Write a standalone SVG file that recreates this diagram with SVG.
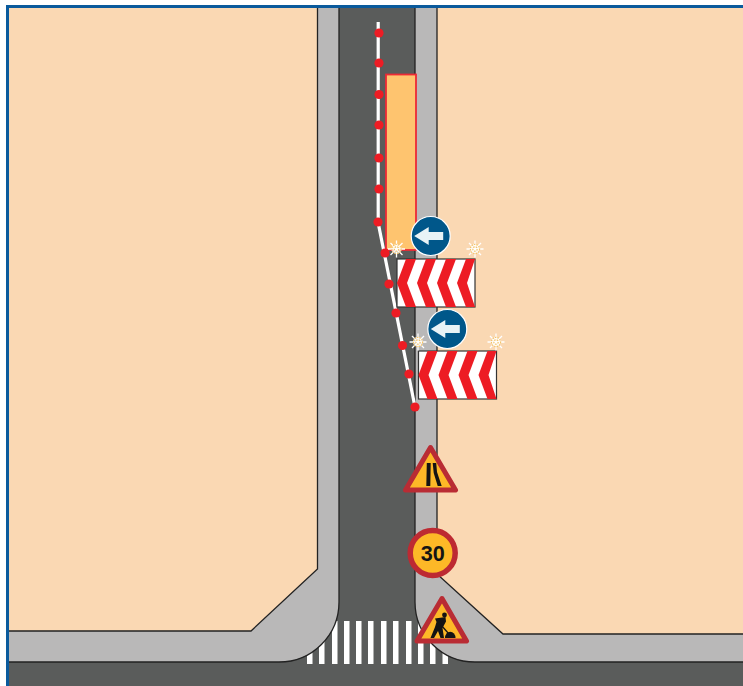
<svg xmlns="http://www.w3.org/2000/svg" width="743" height="686" viewBox="0 0 743 686">
<defs>
<style>
text{font-family:"Liberation Sans",Arial,sans-serif}
.walk{fill:#b9b8b8;stroke:none}
.edge{fill:none;stroke:#222;stroke-width:1.3}
.dot{fill:#ed1c24}
.zebra{fill:#fff}
.tri{fill:#fdb827;stroke:#b92c34;stroke-width:5;stroke-linejoin:round}
.chev{fill:#ed1c24}
.board{fill:#fff;stroke:#333;stroke-width:1.200}
.flake{stroke:#fff;stroke-width:1.300;fill:none}
.flakec{fill:none;stroke:#f3c36a;stroke-width:1.200;stroke-dasharray:1.500 1}
.ink{fill:#141414}
</style>
<g id="snow">
<path class="flake" d="M-8.500 0H8.500M0-8.500V8.500M-6-6L6 6M-6 6L6-6"/>
<circle r="5" fill="#fff" opacity=".75"/>
<circle class="flakec" r="4.600"/>
<circle class="flakec" r="2.200"/>
</g>
<g id="turn">
<circle r="19.500" fill="#00578a" stroke="#fff" stroke-width="1.200"/>
<path d="M-16.500 0L-2-9V-4H12.500V4H-2V9Z" fill="#e8f3f6"/>
</g>
<path id="chevs" class="chev" d="M9-24H19L10 0L19 24H9L0 0ZM29-24H39L30 0L39 24H29L20 0ZM49-24H59L50 0L59 24H49L40 0ZM69-24H78L70 0L78 24H69L60 0Z"/>
</defs>
<rect width="743" height="686" fill="#fff"/>
<rect x="7" y="6" width="736" height="680" fill="#fad8b3"/>
<g id="road">
<path d="M339 7H415V602L475 662H743V686H7V662H279L339 602Z" fill="#5a5c5b"/>
</g>
<g id="crossing">
<rect class="zebra" x="307" y="650" width="5.500" height="14"/>
<rect class="zebra" x="319" y="640" width="5.500" height="24"/>
<rect class="zebra" x="332" y="621" width="5.500" height="43"/>
<rect class="zebra" x="344" y="621" width="5.500" height="43"/>
<rect class="zebra" x="356" y="621" width="5.500" height="43"/>
<rect class="zebra" x="368" y="621" width="5.500" height="43"/>
<rect class="zebra" x="381" y="621" width="5.500" height="43"/>
<rect class="zebra" x="393" y="621" width="5.500" height="43"/>
<rect class="zebra" x="406" y="621" width="5.500" height="43"/>
<rect class="zebra" x="418" y="621" width="5.500" height="43"/>
<rect class="zebra" x="430" y="640" width="5.500" height="24"/>
<rect class="zebra" x="442.500" y="650" width="5.500" height="14"/>
</g>
<g id="sidewalks">
<path class="walk" d="M317.500 7V569L251 631H7V662H279A60 60 0 0 0 339 602V7Z"/>
<path class="walk" d="M415 7V602A60 60 0 0 0 475 662H743V634H503L437 574V7Z"/>
<path class="edge" d="M317.500 7V569L251 631H7M339 7V602A60 60 0 0 1 279 662H7"/>
<path class="edge" d="M437 7V574L503 634H743M415 7V602A60 60 0 0 0 475 662H743"/>
</g>
<path id="frame" d="M7.500 686V6.500H743" fill="none" stroke="#0a5a9c" stroke-width="3"/>
<g id="work-zone"><rect x="386" y="74.500" width="30" height="175.500" fill="#fec46f" stroke="#ed2a35" stroke-width="1.800"/></g>
<g id="connectors">
<path d="M378.200 22V223L415 407" fill="none" stroke="#fff" stroke-width="3.200"/>
<g>
<circle class="dot" cx="379" cy="33" r="4.600"/><circle class="dot" cx="379" cy="63" r="4.600"/><circle class="dot" cx="379" cy="94.500" r="4.600"/><circle class="dot" cx="379" cy="125" r="4.600"/><circle class="dot" cx="379" cy="158" r="4.600"/><circle class="dot" cx="379" cy="189" r="4.600"/><circle class="dot" cx="378" cy="222" r="4.600"/><circle class="dot" cx="385" cy="253" r="4.600"/><circle class="dot" cx="389" cy="284" r="4.600"/><circle class="dot" cx="396" cy="313" r="4.600"/><circle class="dot" cx="402.500" cy="345.500" r="4.600"/><circle class="dot" cx="409" cy="374" r="4.600"/><circle class="dot" cx="415" cy="407" r="4.600"/>
</g>
</g>
<g id="barrier-1">
<rect class="board" x="397" y="259" width="78" height="48"/>
<use href="#chevs" x="397" y="283"/>
<use href="#snow" x="396.500" y="249"/><use href="#snow" x="475" y="249"/>
</g>
<g id="turn-1"><use href="#turn" x="430.700" y="236"/></g>
<g id="barrier-2">
<rect class="board" x="418.500" y="351" width="78" height="48"/>
<use href="#chevs" x="418.500" y="375"/>
<use href="#snow" x="418" y="342"/><use href="#snow" x="496" y="342"/>
</g>
<g id="turn-2"><use href="#turn" x="447.300" y="329"/></g>
<g id="sign-narrow">
<path class="tri" d="M430.500 447.500L455.500 490H405.500Z"/>
<path class="ink" d="M426.800 463H430.700L430.300 486H426.300ZM432.700 463H436.200L437 472L441.700 486H437.700L433.700 473Z"/>
</g>
<g id="sign-30">
<circle cx="432.700" cy="553" r="22.500" fill="#fdb827" stroke="#bd2a32" stroke-width="5.500"/>
<text x="432.700" y="561" font-size="22.500" font-weight="700" text-anchor="middle" fill="#141414" textLength="24" lengthAdjust="spacingAndGlyphs">30</text>
</g>
<g id="sign-work">
<path class="tri" d="M442 598.500L466.500 641H417Z"/>
<circle class="ink" cx="444.500" cy="615" r="2.400"/>
<path class="ink" d="M435 618.500L445.500 617L446 621.500L442.500 628L444 638H440.500L438 631L434 638H430.500L435 627L436.500 622Z"/>
<path d="M441 625L449 634" fill="none" stroke="#141414" stroke-width="1.300"/>
<path class="ink" d="M445 638A5 6 0 0 1 455.500 638Z"/>
</g>
</svg>
